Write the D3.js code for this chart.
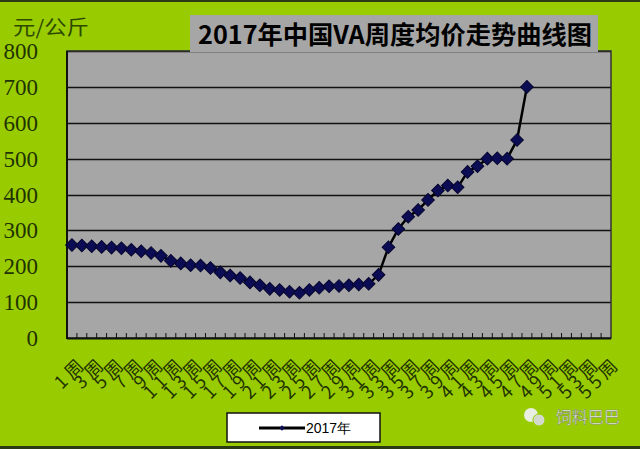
<!DOCTYPE html>
<html><head><meta charset="utf-8">
<script src="https://cdn.jsdelivr.net/npm/d3@7/dist/d3.min.js"></script>
<style>body{margin:0;background:#99cc00;} svg{display:block}</style>
</head><body><svg id="c" width="640" height="449"></svg>
<script>
const categories = ["1周","2周","3周","4周","5周","6周","7周","8周","9周","10周",
  "11周","12周","13周","14周","15周","16周","17周","18周","19周","20周",
  "21周","22周","23周","24周","25周","26周","27周","28周","29周","30周",
  "31周","32周","33周","34周","35周","36周","37周","38周","39周","40周",
  "41周","42周","43周","44周","45周","46周","47周","48周","49周","50周",
  "51周","52周","53周","54周","55周"];
const values2017 = [259,258,256,254,252,250,246,242,237,229,
  215,208,203,202,195,183,174,167,155,147,
  137,134,129,126,134,140,144,145,147,149,
  151,176,253,304,338,357,385,411,425,420,
  463,479,500,501,500,552,700];
const yTicks = [0,100,200,300,400,500,600,700,800];
const seriesName = "2017年";
const titleText = "2017年中国VA周度均价走势曲线图";
const unitLabel = "元/公斤";
const watermark = "饲料巴巴";

const W = 640, H = 449;
const svg = d3.select("#c");
const P = {left:67, right:611, top:51, bottom:338};

svg.append("rect").attr("width",W).attr("height",H).attr("fill","#99cc00");
svg.append("rect").attr("x",0).attr("y",0).attr("width",W).attr("height",2).attr("fill","#2b3a12");
svg.append("rect").attr("x",0).attr("y",446).attr("width",W).attr("height",3).attr("fill","#2b3a12");

const x = d3.scaleBand().domain(categories).range([P.left,P.right]).padding(0);
const y = d3.scaleLinear().domain([0,800]).range([P.bottom,P.top]);

// plot area
svg.append("rect").attr("x",P.left).attr("y",P.top)
  .attr("width",P.right-P.left).attr("height",P.bottom-P.top)
  .attr("fill","#a6a6a6");

// gridlines
svg.append("g").selectAll("line").data(yTicks.filter(v=>v>0)).join("line")
  .attr("x1",P.left).attr("x2",P.right)
  .attr("y1",d=>Math.round(y(d))+0.5).attr("y2",d=>Math.round(y(d))+0.5)
  .attr("stroke","#111").attr("stroke-width",1.3);

// plot border
svg.append("rect").attr("x",P.left).attr("y",P.top)
  .attr("width",P.right-P.left).attr("height",P.bottom-P.top)
  .attr("fill","none").attr("stroke","#333").attr("stroke-width",1.5);
svg.append("line").attr("x1",P.left).attr("x2",P.left).attr("y1",P.top).attr("y2",P.bottom+1)
  .attr("stroke","#111").attr("stroke-width",2);
svg.append("line").attr("x1",P.left).attr("x2",P.right).attr("y1",P.bottom+0.5).attr("y2",P.bottom+0.5)
  .attr("stroke","#111").attr("stroke-width",2);

// x ticks at category boundaries
svg.append("g").selectAll("line").data(categories.slice(1)).join("line")
  .attr("x1",d=>x(d)).attr("x2",d=>x(d))
  .attr("y1",P.bottom).attr("y2",P.bottom-5)
  .attr("stroke","#111").attr("stroke-width",1);

// y tick labels
svg.append("g").selectAll("text").data(yTicks).join("text")
  .attr("x",38).attr("y",d=>y(d)+8)
  .attr("text-anchor","end")
  .attr("font-family","Liberation Serif, serif").attr("font-size",23)
  .attr("fill","#1f3300").text(d=>d);

// x tick labels (every other category)
svg.append("g").selectAll("text").data(categories.filter((d,i)=>i%2===0)).join("text")
  .attr("transform",d=>`translate(${x(d)+x.bandwidth()/2+6},${P.bottom+17}) rotate(-45)`)
  .attr("text-anchor","end").attr("dy","0.75em")
  .attr("letter-spacing","4px")
  .attr("font-family","Noto Sans CJK SC, sans-serif").attr("font-size",18)
  .attr("fill","#1f3300").text(d=>d);

// line + markers
const cx = (d,i)=>x(categories[i])+x.bandwidth()/2;
svg.append("path").datum(values2017)
  .attr("d",d3.line().x(cx).y(d=>y(d)))
  .attr("fill","none").attr("stroke","#000").attr("stroke-width",2.5);
const sym = d3.symbol(d3.symbolSquare, 80);
svg.append("g").selectAll("path").data(values2017).join("path")
  .attr("transform",(d,i)=>`translate(${cx(d,i)},${y(d)}) rotate(45)`)
  .attr("d",sym).attr("fill","#0c0c55").attr("stroke","#06062e").attr("stroke-width",1);

// title box
svg.append("rect").attr("x",190).attr("y",15).attr("width",408).attr("height",37).attr("fill","#a6a6a6");
svg.append("text").attr("x",198).attr("y",44)
  .attr("font-family","Noto Sans CJK SC, sans-serif").attr("font-weight","bold").attr("font-size",25)
  .attr("textLength",394).attr("lengthAdjust","spacingAndGlyphs")
  .attr("fill","#000").text(titleText);

// unit label
svg.append("text").attr("x",13).attr("y",35)
  .attr("font-family","Noto Sans CJK SC, sans-serif").attr("font-size",20)
  .attr("textLength",76).attr("lengthAdjust","spacingAndGlyphs")
  .attr("fill","#2d4a00").text(unitLabel);

// legend
svg.append("rect").attr("x",227).attr("y",413).attr("width",153).attr("height",29)
  .attr("fill","#fff").attr("stroke","#111").attr("stroke-width",1.5);
svg.append("line").attr("x1",259).attr("x2",305).attr("y1",428).attr("y2",428)
  .attr("stroke","#000").attr("stroke-width",3);
svg.append("path").attr("transform","translate(282,428) rotate(45)")
  .attr("d",d3.symbol(d3.symbolSquare,14)).attr("fill","#0c0c55");
svg.append("text").attr("x",306).attr("y",433)
  .attr("font-family","Liberation Sans Narrow, Liberation Sans, sans-serif").attr("font-size",14)
  .attr("fill","#000").text(seriesName);

// watermark
const wm = svg.append("g");
wm.append("circle").attr("cx",531).attr("cy",415).attr("r",7).attr("fill","#e8eee0");
wm.append("circle").attr("cx",539).attr("cy",420).attr("r",6).attr("fill","#d3dacb").attr("stroke","#99cc00").attr("stroke-width",1);
wm.append("text").attr("x",556).attr("y",423)
  .attr("font-family","Noto Sans CJK SC, sans-serif").attr("font-size",16)
  .attr("fill","#f2f5ec").attr("stroke","#7a8a60").attr("stroke-width",0.5).text(watermark);
</script></body></html>
